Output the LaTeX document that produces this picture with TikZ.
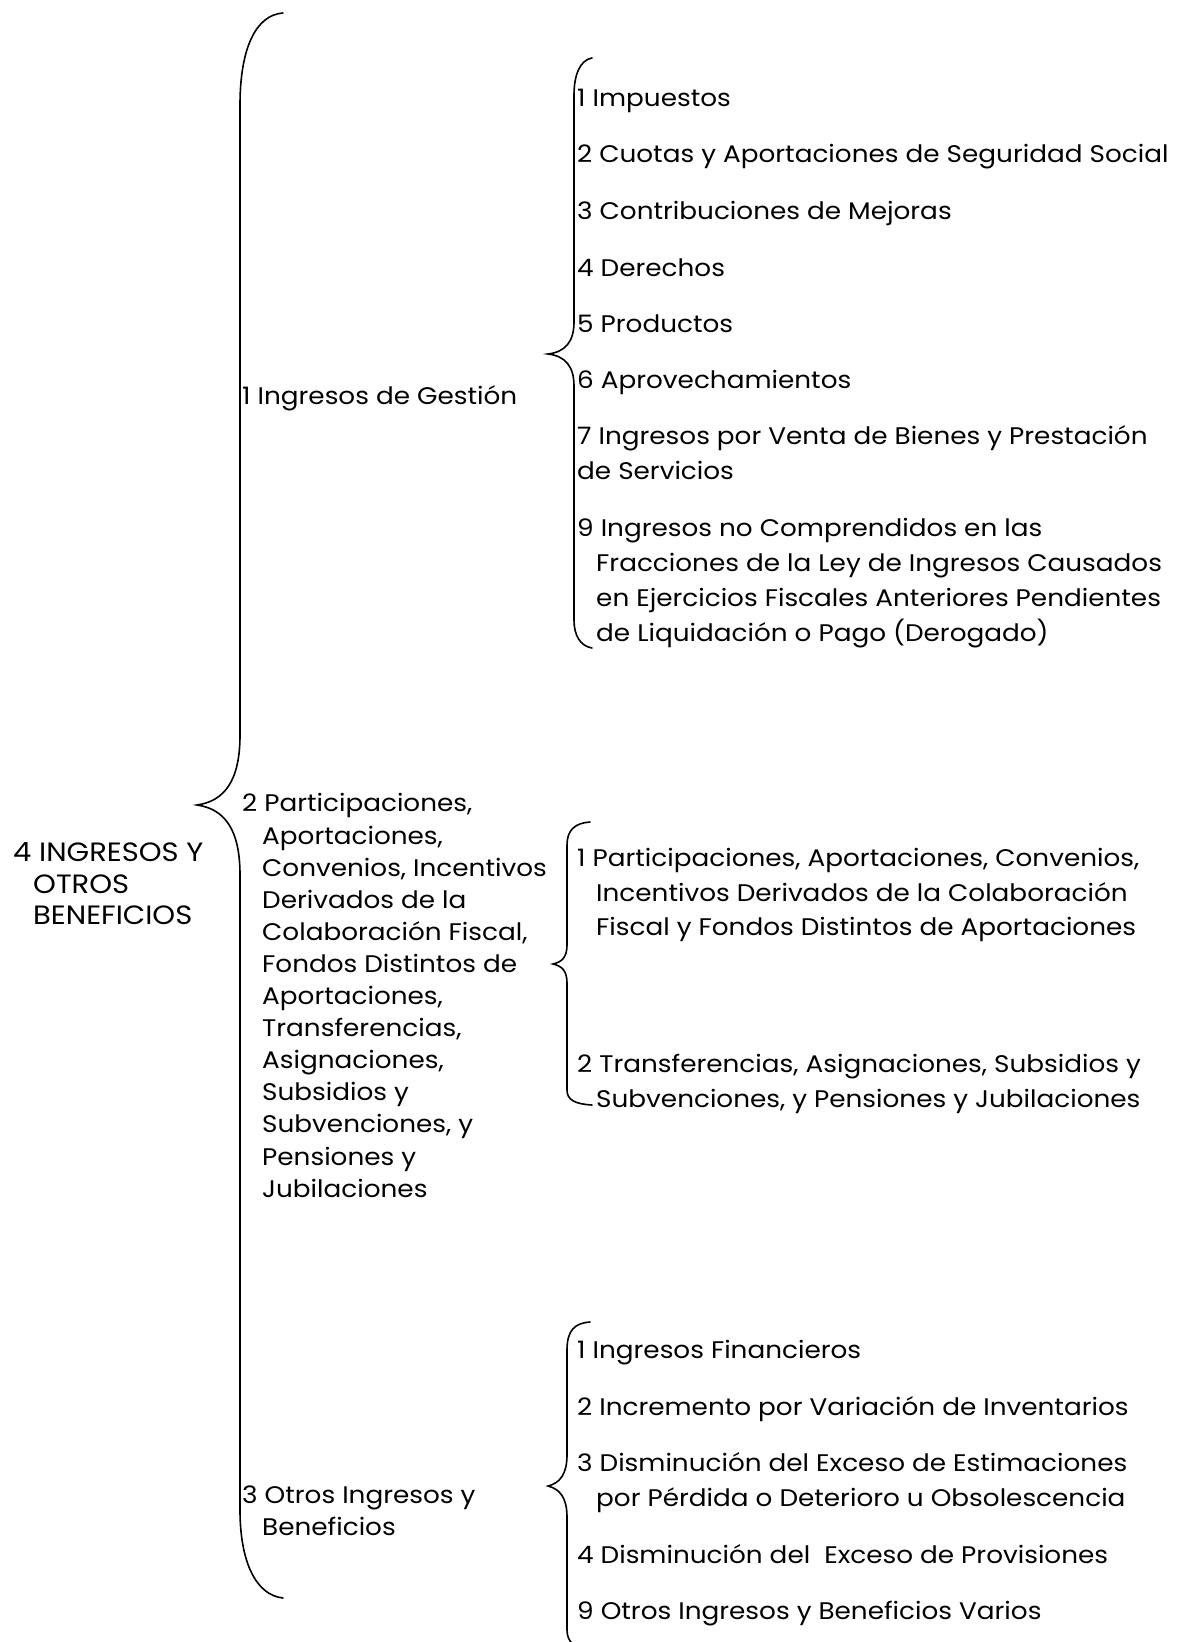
\documentclass[tikz,border=0pt]{standalone}
\usepackage{fontspec}
\setmainfont{Poppins}[FakeStretch=1.095]
\begin{document}
\begin{tikzpicture}[x=1bp,y=-1bp,
  brace/.style={line width=1.6bp, line cap=round},
  lvtwo/.style={anchor=west, inner sep=0pt, align=left, font=\fontsize{24bp}{32.1bp}\selectfont},
  lvthree/.style={anchor=west, inner sep=0pt, align=left, font=\fontsize{24bp}{34.8bp}\selectfont},
  rootst/.style={anchor=west, inner sep=0pt, align=left, font=\fontsize{26.5bp}{31.5bp}\selectfont}]
\useasboundingbox (0,0) rectangle (1189,1642);
% root
\node[rootst] (root) at (13,884) {4 INGRESOS Y\\\hspace*{20bp}OTROS\\\hspace*{20bp}BENEFICIOS};
% level 2
\node[lvtwo] (a) at (242,398) {1 Ingresos de Gesti\'on};
\node[lvtwo] (b) at (242,995.5) {2 Participaciones,\\\hspace*{20bp}Aportaciones,\\\hspace*{20bp}Convenios, Incentivos\\\hspace*{20bp}Derivados de la\\\hspace*{20bp}Colaboraci\'on Fiscal,\\\hspace*{20bp}Fondos Distintos de\\\hspace*{20bp}Aportaciones,\\\hspace*{20bp}Transferencias,\\\hspace*{20bp}Asignaciones,\\\hspace*{20bp}Subsidios y\\\hspace*{20bp}Subvenciones, y\\\hspace*{20bp}Pensiones y\\\hspace*{20bp}Jubilaciones};
\node[lvtwo] (c) at (242,1510.5) {3 Otros Ingresos y\\\hspace*{20bp}Beneficios};
% level 3, group 1
\node[lvthree] (a1) at (577,101) {1 Impuestos};
\node[lvthree] (a2) at (577,157) {2 Cuotas y Aportaciones de Seguridad Social};
\node[lvthree] (a3) at (577,213) {3 Contribuciones de Mejoras};
\node[lvthree] (a4) at (577,268) {4 Derechos};
\node[lvthree] (a5) at (577,324) {5 Productos};
\node[lvthree] (a6) at (577,382) {6 Aprovechamientos};
\node[lvthree] (a7) at (577,453) {7 Ingresos por Venta de Bienes y Prestaci\'on\\de Servicios};
\node[lvthree] (a9) at (577,583) {9 Ingresos no Comprendidos en las\\\hspace*{19bp}Fracciones de la Ley de Ingresos Causados\\\hspace*{19bp}en Ejercicios Fiscales Anteriores Pendientes\\\hspace*{19bp}de Liquidaci\'on o Pago (Derogado)};
% group 2
\node[lvthree] (b1) at (577,895) {1 Participaciones, Aportaciones, Convenios,\\\hspace*{19bp}Incentivos Derivados de la Colaboraci\'on\\\hspace*{19bp}Fiscal y Fondos Distintos de Aportaciones};
\node[lvthree] (b2) at (577,1084) {2 Transferencias, Asignaciones, Subsidios y\\\hspace*{19bp}Subvenciones, y Pensiones y Jubilaciones};
% group 3
\node[lvthree] (c1) at (577,1353) {1 Ingresos Financieros};
\node[lvthree] (c2) at (577,1409) {2 Incremento por Variaci\'on de Inventarios};
\node[lvthree] (c3) at (577,1483) {3 Disminuci\'on del Exceso de Estimaciones\\\hspace*{19bp}por P\'erdida o Deterioro u Obsolescencia};
\node[lvthree] (c4) at (577,1554) {4 Disminuci\'on del\ \ Exceso de Provisiones};
\node[lvthree] (c5) at (577,1614) {9 Otros Ingresos y Beneficios Varios};
% braces
\coordinate (t0) at (283,13);
\coordinate (tip0) at (197,805);
\coordinate (e0) at (283,1598);
\draw[brace] (t0) .. controls (255,15) and (240,50) .. (240,105) -- (240,735)
  .. controls (240,780) and (225,801) .. (tip0)
  .. controls (225,809) and (240,830) .. (240,875) -- (240,1510)
  .. controls (240,1560) and (255,1595) .. (e0);
\coordinate (t1) at (592,58);
\coordinate (tip1) at (548,354);
\coordinate (e1) at (592,648);
\draw[brace] (t1) .. controls (580,60) and (574,75) .. (574,95) -- (574,322)
  .. controls (574,342) and (565,352) .. (tip1)
  .. controls (565,356) and (574,366) .. (574,386) -- (574,620)
  .. controls (574,635) and (580,646) .. (e1);
\coordinate (t2) at (590,822);
\coordinate (tip2) at (553,964);
\coordinate (e2) at (592,1105);
\draw[brace] (t2) .. controls (575,823) and (567,830) .. (567,845) -- (567,945)
  .. controls (567,957) and (562,962) .. (tip2)
  .. controls (562,966) and (567,971) .. (567,983) -- (567,1090)
  .. controls (567,1100) and (575,1104) .. (e2);
\coordinate (t3) at (590,1322);
\coordinate (tip3) at (548,1486);
\coordinate (e3) at (590,1650);
\draw[brace] (t3) .. controls (575,1323) and (567,1330) .. (567,1350) -- (567,1455)
  .. controls (567,1474) and (560,1483) .. (tip3)
  .. controls (560,1489) and (567,1498) .. (567,1517) -- (567,1630)
  .. controls (567,1642) and (575,1649) .. (e3);
\end{tikzpicture}
\end{document}
